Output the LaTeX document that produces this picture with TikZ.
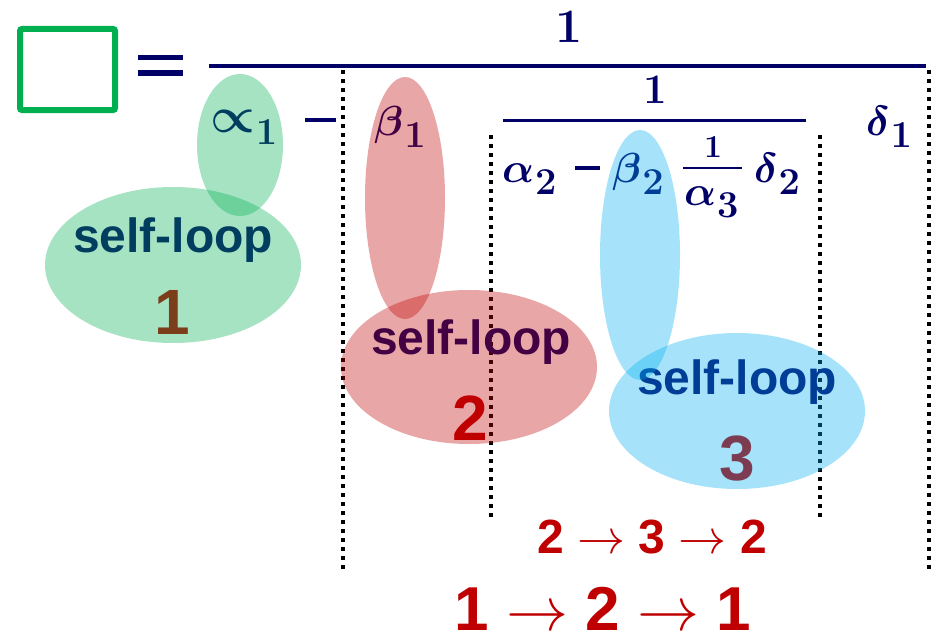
\documentclass[tikz,border=0pt]{standalone}
\usepackage{fix-cm}
\usepackage{amsmath}
\usepackage[no-math]{fontspec}
\newfontfamily\arial{Liberation Sans}
\definecolor{navy}{RGB}{0,0,102}
\definecolor{gbox}{HTML}{00B050}
\definecolor{redtxt}{HTML}{C00000}
\definecolor{blu}{HTML}{00B0F0}
\newcommand{\rarr}{\ensuremath{\unboldmath\rightarrow}}
\newcommand{\sbs}[1]{\kern1pt\raisebox{-12pt}{\fontsize{38}{42}\selectfont\boldmath$#1$}}
\begin{document}
\begin{tikzpicture}[x=1pt,y=-1pt,
  mth/.style={inner sep=0pt, text=navy, font=\fontsize{42}{46}\selectfont\boldmath},
  bigmth/.style={inner sep=0pt, text=navy, font=\fontsize{48}{52}\selectfont\boldmath},
  smth/.style={inner sep=0pt, text=navy, font=\fontsize{32}{36}\selectfont\boldmath},
  bar/.style={navy, line width=4pt},
  dotline/.style={black, line width=4pt, dash pattern=on 4pt off 5pt},
  loop/.style={inner sep=0pt, text=navy, font=\arial\bfseries\fontsize{48}{52}\selectfont},
  num/.style={inner sep=0pt, text=redtxt, font=\arial\bfseries\fontsize{64}{68}\selectfont},
  path/.style={inner sep=0pt, text=redtxt, font=\arial\bfseries},
  blob/.style={draw=none, fill opacity=0.35}]
\useasboundingbox (0,0) rectangle (934,642);
% left side
\node[draw=gbox, line width=6pt, rounded corners=2pt, minimum width=95pt, minimum height=81pt, inner sep=0pt] (box) at (67.5,69.5) {};
\coordinate (e1a) at (138,58); \coordinate (e1b) at (183,58);
\coordinate (e2a) at (138,73); \coordinate (e2b) at (183,73);
\draw[navy, line width=5pt] (e1a) -- (e1b) (e2a) -- (e2b);
% main fraction
\coordinate (mb1) at (209,66); \coordinate (mb2) at (926,66);
\draw[bar] (mb1) -- (mb2);
\node[bigmth, anchor=base] (n1) at (569,43) {$1$};
\node[mth, anchor=base west] (a1) at (210,132) {\fontsize{50}{52}\selectfont$\propto$\fontsize{42}{46}\selectfont\sbs{1}};
\coordinate (mi1) at (305,120); \coordinate (mi2) at (336,120);
\draw[navy, line width=4pt] (mi1) -- (mi2);
\node[mth, anchor=base west] (b1) at (374,135) {$\beta$\sbs{1}};
\node[mth, anchor=base west] (d1) at (866,135) {$\delta$\sbs{1}};
% inner fraction
\node[mth, anchor=base] (n2) at (655,103) {$1$};
\coordinate (ib1) at (503,120); \coordinate (ib2) at (806,120);
\draw[navy, line width=3pt] (ib1) -- (ib2);
\node[mth, anchor=base west] (a2) at (502,182) {$\alpha$\sbs{2}};
\coordinate (mi3) at (575,168); \coordinate (mi4) at (600,168);
\draw[navy, line width=3.5pt] (mi3) -- (mi4);
\node[mth, anchor=base west] (b2) at (612,182) {$\beta$\sbs{2}};
\node[smth, anchor=base] (n3) at (713,157) {$1$};
\coordinate (sb1) at (683,168); \coordinate (sb2) at (742,168);
\draw[navy, line width=2.5pt] (sb1) -- (sb2);
\node[mth, anchor=base west] (a3) at (684,205) {$\alpha$\sbs{3}};
\node[mth, anchor=base west] (d2) at (754,182) {$\delta$\sbs{2}};
% dotted lines
\coordinate (L1) at (343,70); \coordinate (L2) at (343,570);
\coordinate (R1) at (929,70); \coordinate (R2) at (929,570);
\coordinate (i1) at (491,135); \coordinate (i2) at (491,520);
\coordinate (j1) at (820,135); \coordinate (j2) at (820,520);
\draw[dotline] (L1) -- (L2) (R1) -- (R2) (i1) -- (i2) (j1) -- (j2);
% labels
\node[loop, anchor=base] (s1) at (173,252) {self-loop};
\node[num, anchor=base] (k1) at (172,334) {1};
\node[loop, anchor=base] (s2) at (471,354) {self-loop};
\node[num, anchor=base] (k2) at (470,440) {2};
\node[loop, anchor=base] (s3) at (737,394) {self-loop};
\node[num, anchor=base] (k3) at (737,480) {3};
\node[path, anchor=base, font=\arial\bfseries\fontsize{48}{52}\selectfont] (p1) at (652,553) {2 \rarr{} 3 \rarr{} 2};
\node[path, anchor=base, font=\arial\bfseries\fontsize{62}{66}\selectfont] (p2) at (603,630) {1 \rarr{} 2 \rarr{} 1};
% blobs
\fill[blob, gbox] (240,145) ellipse [x radius=43, y radius=71];
\fill[blob, gbox] (173,265) ellipse [x radius=128, y radius=78];
\fill[blob, redtxt] (405,198) ellipse [x radius=40, y radius=121];
\fill[blob, redtxt] (469,367) ellipse [x radius=128, y radius=77];
\fill[blob, blu] (640,255) ellipse [x radius=40, y radius=125];
\fill[blob, blu] (737,411) ellipse [x radius=128, y radius=78];
\end{tikzpicture}
\end{document}
